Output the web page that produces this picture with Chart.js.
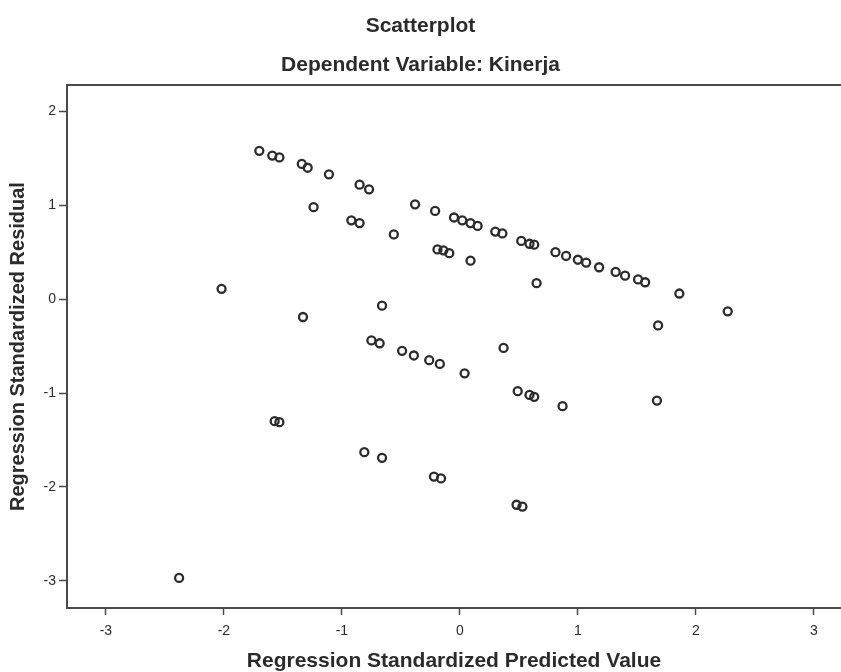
<!DOCTYPE html>
<html>
<head>
<meta charset="utf-8">
<script src="https://cdn.jsdelivr.net/npm/chart.js@4.4.1/dist/chart.umd.min.js"></script>
<style>
    html, body { margin: 0; padding: 0; background: #ffffff; }
    #scatter { display: block; }
</style>
</head>
<body>
<canvas id="scatter" width="841" height="672"></canvas>
<script>
const predicted = [
    -1.70, -1.59, -1.53, -1.34, -1.29, -1.11, -0.85, -0.77, -1.24, -0.92,
    -0.85, -0.56, -0.38, -0.21, -0.05, 0.02, 0.09, 0.15, 0.30, 0.36,
    0.52, 0.59, 0.63, 0.81, 0.90, 1.00, 1.07, 1.18, 1.32, 1.40,
    1.51, 1.57, 1.86, 2.27, 1.68, -0.19, -0.14, -0.09, 0.09, 0.65,
    -0.66, -2.02, -1.33, -0.75, -0.68, -0.49, -0.39, -0.26, -0.17, 0.04,
    0.37, 0.49, 0.59, 0.63, 0.87, 1.67, -1.57, -1.53, -0.81, -0.66,
    -0.22, -0.16, 0.48, 0.53, -2.38
];
const residual = [
    1.58, 1.53, 1.51, 1.44, 1.40, 1.33, 1.22, 1.17, 0.98, 0.84,
    0.81, 0.69, 1.01, 0.94, 0.87, 0.84, 0.81, 0.78, 0.72, 0.70,
    0.62, 0.59, 0.58, 0.50, 0.46, 0.42, 0.39, 0.34, 0.29, 0.25,
    0.21, 0.18, 0.06, -0.13, -0.28, 0.53, 0.52, 0.49, 0.41, 0.17,
    -0.07, 0.11, -0.19, -0.44, -0.47, -0.55, -0.60, -0.65, -0.69, -0.79,
    -0.52, -0.98, -1.02, -1.04, -1.14, -1.08, -1.30, -1.31, -1.63, -1.69,
    -1.89, -1.91, -2.19, -2.21, -2.97
];
const xTicks = [-3, -2, -1, 0, 1, 2, 3];
const yTicks = [-3, -2, -1, 0, 1, 2];

const titleLines = ['Scatterplot', 'Dependent Variable: Kinerja'];
const xTitle = 'Regression Standardized Predicted Value';
const yTitle = 'Regression Standardized Residual';

const ink = '#2b2b2b';
const axisInk = '#4a4a4a';
const fontFamily = '"Liberation Sans", Arial, sans-serif';

// top edge of the plot frame (SPSS draws a box around the plot)
const frameTop = {
    id: 'frameTop',
    afterDraw(chart) {
        const area = chart.chartArea;
        const ctx = chart.ctx;
        ctx.save();
        ctx.strokeStyle = axisInk;
        ctx.lineWidth = 2;
        ctx.beginPath();
        ctx.moveTo(area.left, area.top);
        ctx.lineTo(area.right, area.top);
        ctx.stroke();
        ctx.restore();
    }
};

const points = predicted.map(function(x, i) {
    return { x: x, y: residual[i] };
});

new Chart(document.getElementById('scatter'), {
    type: 'scatter',
    data: {
        datasets: [{
            data: points,
            pointStyle: 'circle',
            pointRadius: 4,
            pointHoverRadius: 4,
            borderWidth: 2.3,
            borderColor: ink,
            backgroundColor: 'rgba(0,0,0,0)',
        }]
    },
    options: {
        responsive: false,
        animation: false,
        events: [],
        layout: { autoPadding: false, padding: 0 },
        plugins: {
            legend: { display: false },
            tooltip: { enabled: false },
            title: {
                display: true,
                text: titleLines,
                color: ink,
                font: { family: fontFamily, size: 21, weight: 'bold', lineHeight: 1.86 },
                padding: { top: 7, bottom: 0 },
            }
        },
        scales: {
            x: {
                type: 'linear',
                min: -3.33,
                max: 3.23,
                afterBuildTicks: function(scale) {
                    scale.ticks = xTicks.map(function(v) { return { value: v }; });
                },
                afterFit: function(scale) { scale.height = 64; },
                border: { display: true, color: axisInk, width: 2 },
                grid: { drawOnChartArea: false, drawTicks: true, tickLength: 7, tickColor: axisInk, tickWidth: 1.5 },
                ticks: {
                    padding: 8,
                    color: ink,
                    font: { family: fontFamily, size: 14 },
                    callback: function(value) { return String(value); }
                },
                title: {
                    display: true,
                    text: xTitle,
                    color: ink,
                    font: { family: fontFamily, size: 21, weight: 'bold', lineHeight: 1 },
                    padding: { top: 0, bottom: 0 },
                }
            },
            y: {
                type: 'linear',
                min: -3.29,
                max: 2.28,
                afterBuildTicks: function(scale) {
                    scale.ticks = yTicks.map(function(v) { return { value: v }; });
                },
                afterFit: function(scale) { scale.width = 67; },
                border: { display: true, color: axisInk, width: 2 },
                grid: { drawOnChartArea: false, drawTicks: true, tickLength: 8, tickColor: axisInk, tickWidth: 1.5 },
                ticks: {
                    padding: 3,
                    color: ink,
                    font: { family: fontFamily, size: 14 },
                    callback: function(value) { return String(value); }
                },
                title: {
                    display: true,
                    text: yTitle,
                    color: ink,
                    font: { family: fontFamily, size: 20, weight: 'bold', lineHeight: 1 },
                    padding: { top: 8, bottom: 0 },
                }
            }
        }
    },
    plugins: [frameTop]
});
</script>
</body>
</html>
